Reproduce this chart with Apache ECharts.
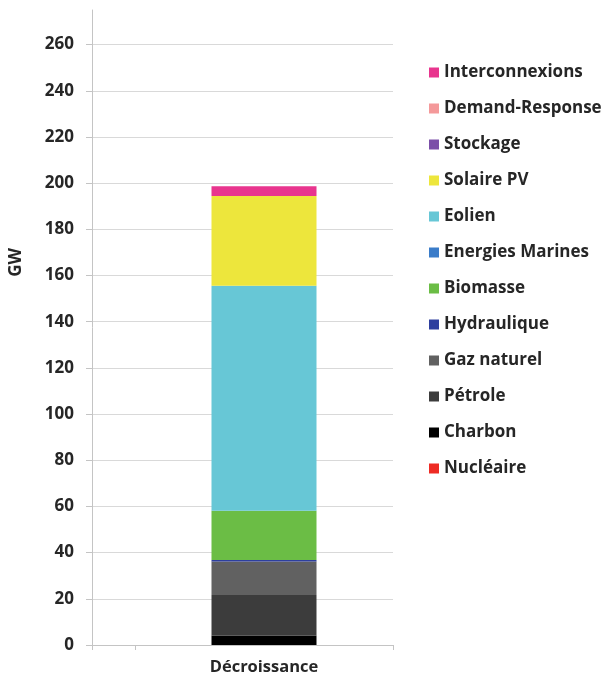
<!DOCTYPE html>
<html>
<head>
<meta charset="utf-8">
<script src="https://cdn.jsdelivr.net/npm/echarts@6/dist/echarts.min.js"></script>
<style>
  html, body { margin: 0; padding: 0; background: #ffffff; }
  #chart { width: 602px; height: 682px; }
</style>
</head>
<body>
<div id="chart"></div>
<script>
// Scenario shown on the category axis
const scenario = 'Décroissance';

// Generation sources, stacked from the bottom of the bar upwards
const sources = [
  'Nucléaire', 'Charbon', 'Pétrole', 'Gaz naturel', 'Hydraulique', 'Biomasse',
  'Energies Marines', 'Eolien', 'Solaire PV', 'Stockage', 'Demand-Response', 'Interconnexions'
];

// Installed capacity per source (GW)
const capacityGW = [0, 4, 17.7, 14.5, 0.6, 21.3, 0, 97.5, 38.8, 0, 0, 4.3];

// Colour of each source
const sourceColors = [
  '#ee2b24', '#000000', '#3c3c3c', '#616161', '#2e3f9e', '#6bbd45',
  '#3a7cc9', '#67c7d6', '#ede63c', '#7b4fa8', '#f4999a', '#e8358e'
];

// Value-axis tick labels
const yTicks = [0, 20, 40, 60, 80, 100, 120, 140, 160, 180, 200, 220, 240, 260];

// The category axis keeps empty slots around the scenario column
const slotCount = 8;
const scenarioSlot = 4;
const categories = Array.from({ length: slotCount }, (_, i) => (i === scenarioSlot ? scenario : ''));

const FONT = '"Open Sans", "Liberation Sans", sans-serif';
const TEXT = '#262626';

const series = sources.map((name, i) => ({
  name,
  type: 'bar',
  stack: 'total',
  barWidth: 105,
  itemStyle: { color: sourceColors[i] },
  emphasis: { disabled: true },
  data: categories.map((_, k) => (k === scenarioSlot ? capacityGW[i] : '-'))
}));

const chart = echarts.init(document.getElementById('chart'), null, { renderer: 'canvas' });
chart.setOption({
  animation: false,
  backgroundColor: '#ffffff',
  grid: { left: 88, right: 209, top: 10, bottom: 37, containLabel: false },
  legend: {
    orient: 'vertical',
    left: 424,
    top: 59,
    icon: 'rect',
    itemWidth: 10,
    itemHeight: 10,
    itemGap: 19,
    selectedMode: false,
    data: sources.slice().reverse(),
    textStyle: { fontFamily: FONT, fontWeight: 'bold', fontSize: 17, color: TEXT, lineHeight: 16, padding: [0, 0, 0, 0] }
  },
  xAxis: {
    type: 'category',
    data: categories,
    boundaryGap: false,
    axisLine: { lineStyle: { color: '#c4c4c4', width: 1 } },
    axisTick: {
      show: true,
      length: 5,
      interval: (idx) => idx === 0 || idx === 1 || idx === slotCount - 1,
      lineStyle: { color: '#c4c4c4' }
    },
    axisLabel: {
      interval: 0,
      margin: 14,
      fontFamily: FONT,
      fontWeight: 'bold',
      fontSize: 16.5,
      color: TEXT
    },
    splitLine: { show: false }
  },
  yAxis: {
    type: 'value',
    min: 0,
    max: 275,
    name: 'GW',
    nameLocation: 'middle',
    nameGap: 67,
    nameRotate: 90,
    nameTextStyle: { fontFamily: FONT, fontWeight: 'bold', fontSize: 17, color: TEXT, padding: [0, 0, 0, 130] },
    axisLine: { show: true, lineStyle: { color: '#c4c4c4', width: 1 } },
    axisTick: { show: true, length: 6, customValues: yTicks, lineStyle: { color: '#c4c4c4' } },
    axisLabel: {
      customValues: yTicks,
      margin: 18,
      fontFamily: FONT,
      fontWeight: 'bold',
      fontSize: 17,
      color: TEXT
    },
    splitLine: { show: true, lineStyle: { color: '#d9d9d9', width: 1 } }
  },
  series
});
</script>
</body>
</html>
